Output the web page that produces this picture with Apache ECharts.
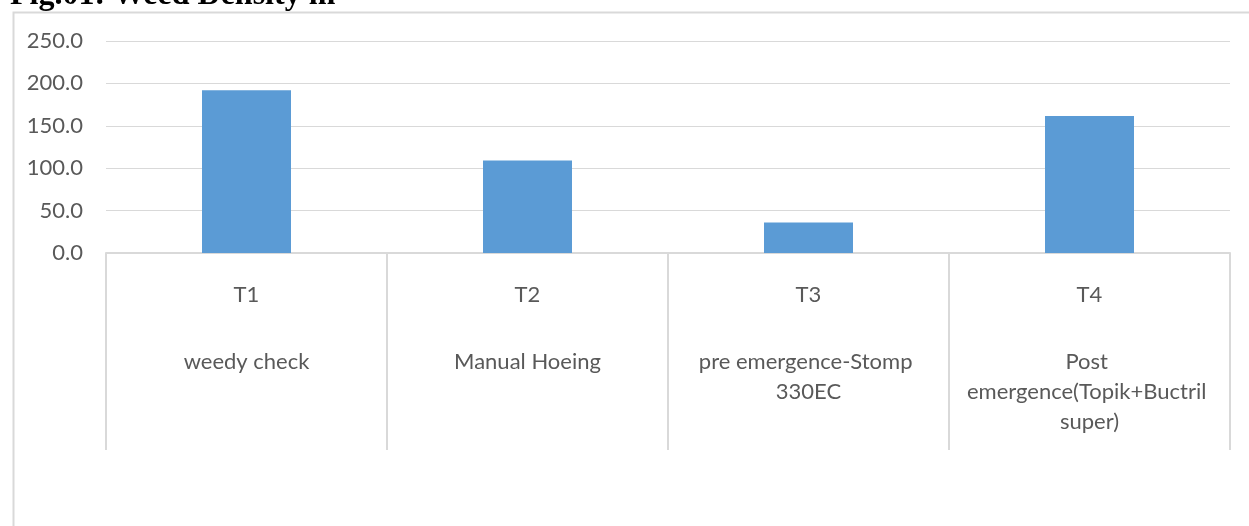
<!DOCTYPE html>
<html>
<head>
<meta charset="utf-8">
<script src="https://cdn.jsdelivr.net/npm/echarts@6/dist/echarts.min.js"></script>
<style>
  html, body { margin: 0; padding: 0; background: #ffffff; }
  #chart { width: 1249px; height: 526px; }
</style>
</head>
<body>
<div id="chart"></div>
<script>
// Treatment codes, treatment names and weed density values
const treatmentCodes = ['T1', 'T2', 'T3', 'T4'];
const treatmentNames = [
  'weedy check',
  'Manual Hoeing',
  'pre emergence-Stomp 330EC',
  'Post emergence(Topik+Buctril super)'
];
const weedDensity = [192.0, 109.0, 36.0, 161.6];
const yMin = 0;
const yMax = 250;
const yStep = 50;
const titleText = 'Fig.01: Weed Density m';

const gridColor = '#d9d9d9';
const labelColor = '#595959';
const labelFont = 'Lato, "Liberation Sans", sans-serif';

const chart = echarts.init(document.getElementById('chart'), null, { renderer: 'canvas' });

chart.setOption({
  animation: false,
  backgroundColor: '#ffffff',
  graphic: [
    {
      type: 'rect',
      left: 11,
      top: 10,
      shape: { width: 1260, height: 540 },
      style: { fill: 'none', stroke: gridColor, lineWidth: 2 },
      z: -1
    },
    {
      type: 'text',
      left: 10,
      top: -20,
      style: {
        text: titleText,
        font: 'bold 32px "Liberation Serif", "Times New Roman", serif',
        fill: '#000000'
      }
    }
  ],
  grid: {
    left: 106,
    right: 19,
    top: 41,
    bottom: 273,
    containLabel: false
  },
  xAxis: [
    {
      type: 'category',
      data: treatmentCodes,
      position: 'bottom',
      axisLine: { show: true, lineStyle: { color: gridColor, width: 2 } },
      axisTick: {
        show: true,
        alignWithLabel: false,
        interval: 0,
        length: 197,
        lineStyle: { color: gridColor, width: 2 }
      },
      axisLabel: {
        interval: 0,
        color: labelColor,
        fontFamily: labelFont,
        fontSize: 22,
        lineHeight: 30,
        margin: 27
      }
    },
    {
      type: 'category',
      data: treatmentNames,
      position: 'bottom',
      gridIndex: 0,
      axisLine: { show: false },
      axisTick: { show: false },
      axisLabel: {
        interval: 0,
        hideOverlap: false,
        color: labelColor,
        fontFamily: labelFont,
        fontSize: 22,
        lineHeight: 30,
        margin: 94,
        width: 262,
        overflow: 'break',
        align: 'center'
      }
    }
  ],
  yAxis: {
    type: 'value',
    min: yMin,
    max: yMax,
    interval: yStep,
    axisLine: { show: false },
    axisTick: { show: false },
    splitLine: { show: true, lineStyle: { color: gridColor, width: 1 } },
    axisLabel: {
      color: labelColor,
      fontFamily: labelFont,
      fontSize: 22,
      margin: 23,
      formatter: v => v.toFixed(1)
    }
  },
  series: [
    {
      type: 'bar',
      xAxisIndex: 0,
      data: weedDensity,
      barWidth: 89,
      itemStyle: { color: '#5b9bd5' }
    }
  ]
});
</script>
</body>
</html>
